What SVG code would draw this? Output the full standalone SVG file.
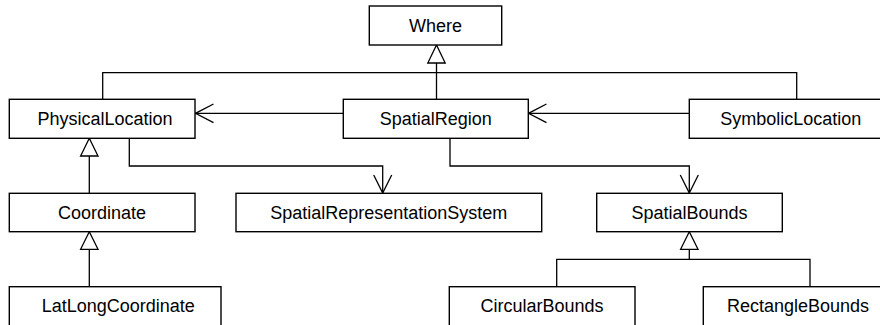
<svg xmlns="http://www.w3.org/2000/svg" width="880" height="325" viewBox="0 0 880 325">
<style>
.box{fill:#fff;stroke:#000;stroke-width:1.4}
.lbl{font-family:"Liberation Sans",Arial,sans-serif;font-size:18px;fill:#000;text-anchor:middle}
.ln{fill:none;stroke:#000;stroke-width:1.3}
.tri{fill:#fff;stroke:#000;stroke-width:1.3}
</style>
<rect width="880" height="325" fill="#fff"/>
<g id="connectors">
  <!-- generalization to Where -->
  <path class="ln" d="M102.7,99.3 V72.7 H796.7 V99.3"/>
  <path class="ln" d="M436.5,99.3 V63"/>
  <polygon class="tri" points="436.5,45 427.8,63 445.2,63"/>
  <!-- SpatialRegion -> PhysicalLocation -->
  <path class="ln" d="M343.3,113.3 H195.5"/>
  <path class="ln" d="M213.5,104 L195.5,113.3 L213.5,122.6"/>
  <!-- SymbolicLocation -> SpatialRegion -->
  <path class="ln" d="M689.3,113.3 H528.5"/>
  <path class="ln" d="M546.5,104 L528.5,113.3 L546.5,122.6"/>
  <!-- Coordinate -> PhysicalLocation -->
  <path class="ln" d="M89.3,193.3 V156"/>
  <polygon class="tri" points="89.3,138.3 80.6,156 98,156"/>
  <!-- PhysicalLocation -> SpatialRepresentationSystem -->
  <path class="ln" d="M129.3,138.3 V166 H382.7 V193"/>
  <path class="ln" d="M373.7,175 L382.7,193 L391.7,175"/>
  <!-- SpatialRegion -> SpatialBounds -->
  <path class="ln" d="M450,138.3 V166 H689.3 V193"/>
  <path class="ln" d="M680.3,175 L689.3,193 L698.3,175"/>
  <!-- LatLongCoordinate -> Coordinate -->
  <path class="ln" d="M89.3,286.7 V249.3"/>
  <polygon class="tri" points="89.3,231.7 80.6,249.3 98,249.3"/>
  <!-- Bounds -> SpatialBounds -->
  <path class="ln" d="M556.7,286.7 V259.3 H810 V286.7"/>
  <path class="ln" d="M689.3,259.3 V249.3"/>
  <polygon class="tri" points="689.3,231.7 680.6,249.3 698,249.3"/>
</g>
<g id="Where"><rect class="box" x="369.3" y="6" width="132.4" height="39"/><text class="lbl" x="435.5" y="31.5">Where</text></g>
<g id="PhysicalLocation"><rect class="box" x="9.3" y="99.3" width="185.7" height="39"/><text class="lbl" x="105" y="125">PhysicalLocation</text></g>
<g id="SpatialRegion"><rect class="box" x="343.3" y="99.3" width="185" height="39"/><text class="lbl" x="435.8" y="125">SpatialRegion</text></g>
<g id="SymbolicLocation"><rect class="box" x="689.3" y="99.3" width="203" height="39"/><text class="lbl" x="790.8" y="125">SymbolicLocation</text></g>
<g id="Coordinate"><rect class="box" x="9.3" y="193.3" width="185.7" height="38.4"/><text class="lbl" x="102" y="218.7">Coordinate</text></g>
<g id="SpatialRepresentationSystem"><rect class="box" x="236" y="193.3" width="305.7" height="38.4"/><text class="lbl" x="388.8" y="218.7">SpatialRepresentationSystem</text></g>
<g id="SpatialBounds"><rect class="box" x="596.7" y="193.3" width="185.6" height="38.4"/><text class="lbl" x="689.5" y="218.7">SpatialBounds</text></g>
<g id="LatLongCoordinate"><rect class="box" x="9.3" y="286.7" width="211.7" height="45"/><text class="lbl" x="118.3" y="312">LatLongCoordinate</text></g>
<g id="CircularBounds"><rect class="box" x="449.3" y="286.7" width="185.7" height="45"/><text class="lbl" x="542" y="312">CircularBounds</text></g>
<g id="RectangleBounds"><rect class="box" x="703.3" y="286.7" width="189.4" height="45"/><text class="lbl" x="798" y="312">RectangleBounds</text></g>
</svg>
